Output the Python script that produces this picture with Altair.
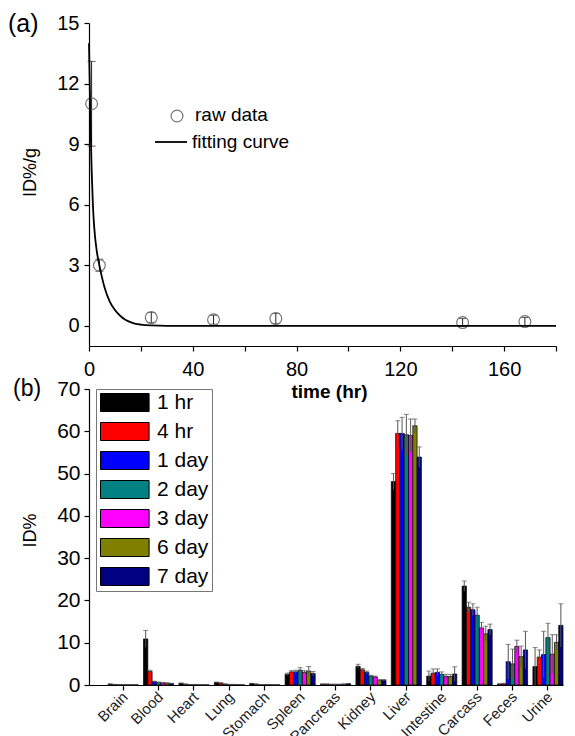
import altair as alt
import pandas as pd

FONT = "Liberation Sans"

# ---------------- panel (a) data ----------------
t_raw = [1, 4, 24, 48, 72, 144, 168]
y_raw = [11.0, 3.0, 0.41, 0.30, 0.36, 0.16, 0.21]
e_raw = [2.1, 0.3, 0.25, 0.22, 0.25, 0.2, 0.2]

t_fit = [0, 0.5, 1, 1.5, 2, 3, 4, 5, 6, 8, 10, 12, 14, 16, 18, 20, 24, 30, 60, 120, 180]
y_fit = [14.0, 10.5, 7.8, 6.0, 4.9, 3.7, 3.0, 2.4, 1.9, 1.2, 0.78, 0.5, 0.3, 0.18,
         0.1, 0.06, 0.02, 0.0, 0.0, 0.0, 0.0]

# ---------------- panel (b) data ----------------
series = ["1 hr", "4 hr", "1 day", "2 day", "3 day", "6 day", "7 day"]
colors = ["#000000", "#ff0000", "#0000ff", "#008080", "#ff00ff", "#808000", "#000080"]
organs = ["Brain", "Blood", "Heart", "Lung", "Stomach", "Spleen", "Pancreas",
          "Kidney", "Liver", "Intestine", "Carcass", "Feces", "Urine"]

brain = [0.2, 0.1, 0.05, 0.05, 0.05, 0.05, 0.05]
blood = [10.9, 3.2, 0.8, 0.6, 0.5, 0.45, 0.35]
heart = [0.4, 0.2, 0.1, 0.1, 0.05, 0.05, 0.05]
lung = [0.6, 0.45, 0.2, 0.1, 0.1, 0.1, 0.05]
stomach = [0.35, 0.2, 0.1, 0.1, 0.1, 0.05, 0.05]
spleen = [2.5, 3.1, 3.1, 3.5, 3.0, 3.3, 2.7]
pancreas = [0.2, 0.2, 0.15, 0.15, 0.15, 0.2, 0.3]
kidney = [4.4, 3.6, 3.0, 2.1, 1.9, 1.1, 1.1]
liver = [48.1, 59.5, 59.5, 59.2, 59.0, 61.3, 53.9]
intestine = [2.1, 2.8, 3.0, 2.5, 2.05, 2.0, 2.6]
carcass = [23.4, 18.4, 17.8, 16.5, 13.5, 12.1, 13.1]
feces = [0.2, 0.3, 5.5, 5.0, 9.1, 6.7, 8.3]
urine = [4.35, 6.6, 7.2, 11.2, 7.3, 10.1, 14.1]

brain_err = [0.05, 0.05, 0.02, 0.02, 0.02, 0.02, 0.02]
blood_err = [2.0, 0.3, 0.1, 0.1, 0.1, 0.05, 0.05]
heart_err = [0.05, 0.05, 0.02, 0.02, 0.02, 0.02, 0.02]
lung_err = [0.1, 0.1, 0.05, 0.05, 0.05, 0.02, 0.02]
stomach_err = [0.05, 0.05, 0.02, 0.02, 0.02, 0.02, 0.02]
spleen_err = [0.3, 0.3, 0.4, 0.6, 0.4, 1.1, 0.5]
pancreas_err = [0.05, 0.05, 0.02, 0.02, 0.02, 0.05, 0.05]
kidney_err = [0.5, 0.3, 0.3, 0.2, 0.2, 0.2, 0.2]
liver_err = [1.9, 3.0, 3.8, 4.8, 3.9, 1.6, 2.4]
intestine_err = [1.2, 1.0, 0.8, 0.6, 0.5, 0.5, 1.7]
carcass_err = [1.2, 1.2, 1.4, 1.9, 1.3, 1.8, 1.3]
feces_err = [0.1, 0.1, 4.1, 3.5, 1.5, 2.5, 4.4]
urine_err = [4.5, 1.7, 5.5, 3.4, 4.6, 1.8, 5.1]

values = [brain, blood, heart, lung, stomach, spleen, pancreas, kidney, liver,
          intestine, carcass, feces, urine]
errors = [brain_err, blood_err, heart_err, lung_err, stomach_err, spleen_err,
          pancreas_err, kidney_err, liver_err, intestine_err, carcass_err,
          feces_err, urine_err]

rows = []
for o, vals, errs in zip(organs, values, errors):
    for s, v, e in zip(series, vals, errs):
        rows.append({"organ": o, "series": s, "v": v, "e": e})
df_b = pd.DataFrame(rows)

raw = pd.DataFrame({"t": t_raw, "y": y_raw, "e": e_raw})
fit = pd.DataFrame({"t": t_fit, "y": y_fit})

# ---------------- panel (a) ----------------
W_A, H_A = 467, 323
GAP = 43
xs = alt.Scale(domain=[0, 180], nice=False, zero=False)
ys = alt.Scale(domain=[-1, 15], nice=False, zero=False)

x_axis_a = alt.Axis(
    values=list(range(0, 181, 20)),
    labelExpr="datum.value % 40 == 0 ? datum.label : ''",
    title="time (hr)", titleFontWeight="bold", titleFontSize=19,
    titleX=240, titleY=45, titleBaseline="middle", titleAlign="center",
    labelFontSize=20, tickSize=5, labelPadding=8, grid=False,
    labelOverlap=False, labelFlush=False,
)
y_axis_a = alt.Axis(
    values=[i * 1.5 for i in range(11)],
    labelExpr="datum.value % 3 == 0 ? datum.label : ''",
    title="ID%/g", titleFontSize=18, titleFontWeight="normal",
    titleX=-59, titleY=149, titleAngle=270, titleBaseline="middle", titleAlign="center",
    labelFontSize=20, tickSize=5, labelPadding=5, grid=False,
    labelOverlap=False, labelFlush=False,
)

curve = alt.Chart(fit).mark_line(color="black", strokeWidth=1.8, interpolate="monotone").encode(
    x=alt.X("t:Q", scale=xs, axis=x_axis_a),
    y=alt.Y("y:Q", scale=ys, axis=y_axis_a),
)
err_a = alt.Chart(raw).transform_calculate(
    lo="datum.y - datum.e", hi="datum.y + datum.e"
).mark_rule(color="#222", strokeWidth=1).encode(
    x=alt.X("t:Q", scale=xs), y=alt.Y("lo:Q", scale=ys), y2="hi:Q"
)
cap_hi_a = alt.Chart(raw).transform_calculate(hi="datum.y + datum.e").mark_tick(
    orient="horizontal", color="#222", size=8, thickness=1
).encode(x=alt.X("t:Q", scale=xs), y=alt.Y("hi:Q", scale=ys))
cap_lo_a = alt.Chart(raw).transform_calculate(lo="datum.y - datum.e").mark_tick(
    orient="horizontal", color="#222", size=8, thickness=1
).encode(x=alt.X("t:Q", scale=xs), y=alt.Y("lo:Q", scale=ys))
pts = alt.Chart(raw).mark_point(
    shape="circle", filled=False, color="#777", size=140, strokeWidth=1.2, opacity=1
).encode(x=alt.X("t:Q", scale=xs), y=alt.Y("y:Q", scale=ys))

leg_pt = alt.Chart(pd.DataFrame({"k": ["raw data"]})).mark_point(
    shape="circle", filled=False, color="#777", size=140, strokeWidth=1.2, opacity=1
).encode(x=alt.value(88), y=alt.value(93))
leg_t1 = alt.Chart(pd.DataFrame({"k": ["raw data"]})).mark_text(
    align="left", baseline="middle", fontSize=19, font=FONT, color="black"
).encode(x=alt.value(106), y=alt.value(92), text="k:N")
leg_line = alt.Chart(pd.DataFrame({"k": ["fitting curve"]})).mark_rule(
    color="black", strokeWidth=1.8
).encode(x=alt.value(66), x2=alt.value(98), y=alt.value(119))
leg_t2 = alt.Chart(pd.DataFrame({"k": ["fitting curve"]})).mark_text(
    align="left", baseline="middle", fontSize=19, font=FONT, color="black"
).encode(x=alt.value(103), y=alt.value(119), text="k:N")
tag_a = alt.Chart(pd.DataFrame({"k": ["(a)"]})).mark_text(
    align="left", baseline="middle", fontSize=25, font=FONT, color="black"
).encode(x=alt.value(-81), y=alt.value(1), text="k:N")

top = alt.layer(err_a, cap_hi_a, cap_lo_a, pts, curve, leg_pt, leg_t1, leg_line, leg_t2, tag_a).properties(
    width=W_A, height=H_A
)

# ---------------- panel (b) ----------------
W_B, H_B = 474, 296
x_b = alt.X(
    "organ:N", sort=organs,
    scale=alt.Scale(paddingInner=0.15, paddingOuter=0.27, align=1),
    axis=alt.Axis(
        title=None, labelAngle=-45, labelAlign="right", labelBaseline="middle",
        labelFontSize=15, tickSize=5, labelPadding=4, labelOffset=2, grid=False,
        labelOverlap=False, labelColor="#222",
    ),
)
xo_b = alt.XOffset("series:N", sort=series, scale=alt.Scale(paddingInner=0, paddingOuter=0))
ys_b = alt.Scale(domain=[0, 70], nice=False)
y_axis_b = alt.Axis(
    values=list(range(0, 71, 5)),
    labelExpr="datum.value % 10 == 0 ? datum.label : ''",
    title="ID%", titleFontSize=18, titleFontWeight="normal",
    titleX=-59, titleY=141, titleAngle=270, titleBaseline="middle", titleAlign="center",
    labelFontSize=21, tickSize=5, labelPadding=4, grid=False,
    labelOverlap=False, labelFlush=False,
)

bars = alt.Chart(df_b).mark_bar(stroke="black", strokeWidth=0.7).encode(
    x=x_b, xOffset=xo_b,
    y=alt.Y("v:Q", scale=ys_b, axis=y_axis_b),
    color=alt.Color(
        "series:N", sort=series,
        scale=alt.Scale(domain=series, range=colors),
        legend=alt.Legend(
            title=None, orient="none", legendX=7, legendY=H_A + GAP,
            symbolType="M-1,-1H4.4V1H-1Z", symbolSize=324,
            symbolStrokeColor="black", symbolStrokeWidth=1, symbolOpacity=1,
            labelFontSize=21, labelFont=FONT, labelColor="black", labelOffset=37,
            rowPadding=6, padding=3, strokeColor="#777", fillColor="white",
        ),
    ),
)
err_b = alt.Chart(df_b).transform_calculate(
    lo="max(datum.v - datum.e, 0)", hi="datum.v + datum.e"
).mark_rule(color="#555", strokeWidth=1).encode(
    x=x_b, xOffset=xo_b, y=alt.Y("lo:Q", scale=ys_b), y2="hi:Q"
)
cap_b = alt.Chart(df_b).transform_calculate(hi="datum.v + datum.e").mark_tick(
    orient="horizontal", color="#555", size=5, thickness=1
).encode(x=x_b, xOffset=xo_b, y=alt.Y("hi:Q", scale=ys_b))
tag_b = alt.Chart(pd.DataFrame({"k": ["(b)"]})).mark_text(
    align="left", baseline="middle", fontSize=23, font=FONT, color="black"
).encode(x=alt.value(-76), y=alt.value(0), text="k:N")

bottom = alt.layer(bars, err_b, cap_b, tag_b).properties(width=W_B, height=H_B)

chart = alt.vconcat(top, bottom, spacing=GAP, bounds="flush").properties(
    padding={"left": 0, "top": 4, "right": 2, "bottom": 2}
).configure(font=FONT).configure_view(stroke=None).configure_axis(
    domainColor="black", domainWidth=1.2, tickColor="black", tickWidth=1.2,
    labelColor="black", titleColor="black", labelFont=FONT, titleFont=FONT,
)

chart.save("out.html", embed_options={"renderer": "svg", "actions": False})
